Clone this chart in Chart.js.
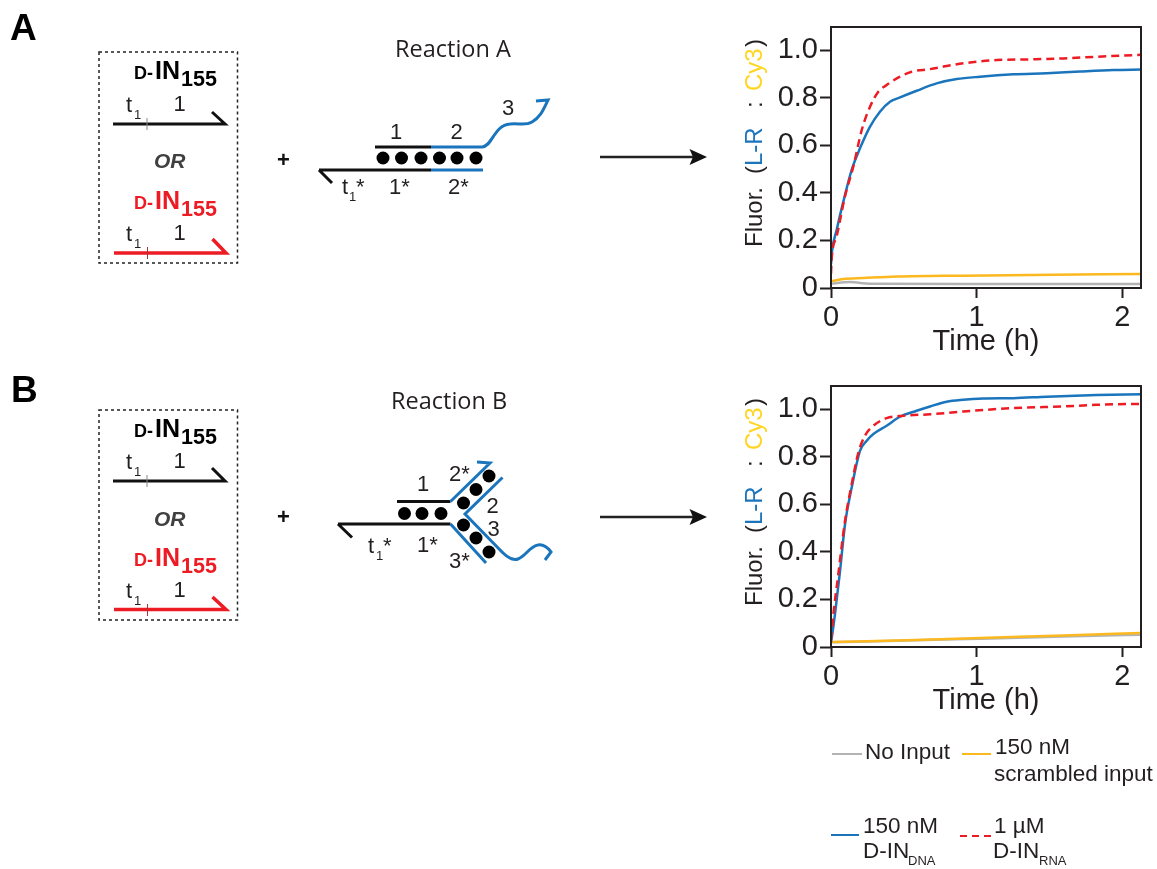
<!DOCTYPE html>
<html><head><meta charset="utf-8">
<script src="https://cdn.jsdelivr.net/npm/chart.js@4/dist/chart.umd.js"></script>
<style>
html,body{margin:0;padding:0;background:#fff;width:1157px;height:869px;overflow:hidden}
canvas{position:absolute;left:730px;display:block}
#a{top:15px}#b{top:374px}
svg{position:absolute;left:0;top:0}
.a{font-family:"Liberation Sans",Arial,sans-serif;fill:#231f20}
.n{font-size:22px}.s{font-size:13px}
.h{font-family:"Open Sans",sans-serif;font-size:23.500px;fill:#231f20}
.b{font-family:"Liberation Sans",Arial,sans-serif;font-weight:700}
.l{font-family:"Liberation Sans",Arial,sans-serif;font-size:22.500px;fill:#231f20}
</style></head><body>
<canvas id="a" width="427" height="350"></canvas>
<canvas id="b" width="427" height="350"></canvas>
<svg width="1157" height="869" viewBox="0 0 1157 869" xmlns="http://www.w3.org/2000/svg">
<defs>
<g id="inLabel"><text class="b" x="134" y="0" font-size="18">D-</text><text class="b" x="155" y="0" font-size="25">IN</text><text class="b" x="181" y="7" font-size="21.500">155</text></g>
<g id="strandLab"><text class="a n" x="126" y="0">t</text><text class="a" x="134" y="7" font-size="13">1</text><text class="a n" x="179.500" y="-1" text-anchor="middle">1</text></g>
</defs>
<!-- Panel A -->
<text class="b" x="10" y="40" font-size="37" fill="#000">A</text>
<rect x="99" y="52" width="138.500" height="211" fill="none" stroke="#222" stroke-width="1.500" stroke-dasharray="3 3"/>
<use href="#inLabel" y="79" fill="#000"/>
<use href="#strandLab" y="112"/>
<path d="M113 124H225L212 112" fill="none" stroke="#111" stroke-width="3"/>
<path d="M147 118V130" stroke="#888" stroke-width="1"/>
<text class="b" x="154" y="168" font-size="21" font-style="italic" fill="#404040">OR</text>
<use href="#inLabel" y="209" fill="#ed1c24"/>
<use href="#strandLab" y="241"/>
<path d="M114 253H226L212.500 239" fill="none" stroke="#ed1c24" stroke-width="3.500"/>
<path d="M147.500 247V259" stroke="#a33" stroke-width="1"/>
<text class="b" x="277" y="167" font-size="22" fill="#111">+</text>
<text class="h" x="395" y="57">Reaction A</text>
<path d="M375 147H431M319 170H431M319 170L332 183" fill="none" stroke="#111" stroke-width="3"/>
<path d="M431 147H482C492 147 494 125 510 124C520 123 525 126 532 122C541 117 544 108 548 100L536 101M431 170H483" fill="none" stroke="#1b75bc" stroke-width="3"/>
<g fill="#000"><circle cx="383" cy="158" r="6.500"/><circle cx="401.500" cy="158" r="6.500"/><circle cx="421" cy="158" r="6.500"/><circle cx="439.500" cy="158" r="6.500"/><circle cx="457" cy="158" r="6.500"/><circle cx="476" cy="158" r="6.500"/></g>
<text class="a n" x="396" y="139" text-anchor="middle">1</text><text class="a n" x="456.500" y="139" text-anchor="middle">2</text><text class="a n" x="508" y="115" text-anchor="middle">3</text>
<text class="a n" x="342" y="194">t</text><text class="a" x="349" y="201" font-size="13">1</text><text class="a n" x="356" y="194">*</text>
<text class="a n" x="389" y="194">1*</text><text class="a n" x="448" y="194">2*</text>
<path d="M600 157H698" stroke="#222" stroke-width="2.500"/><path d="M707 157L689.500 149L693 157L689.500 165Z" fill="#111"/>
<!-- Panel B -->
<text class="b" x="11" y="402" font-size="37" fill="#000">B</text>
<rect x="99" y="410" width="138.500" height="210" fill="none" stroke="#222" stroke-width="1.500" stroke-dasharray="3 3"/>
<use href="#inLabel" y="437" fill="#000"/>
<use href="#strandLab" y="469"/>
<path d="M113 481H225L212 468" fill="none" stroke="#111" stroke-width="3"/>
<path d="M147 475V487" stroke="#888" stroke-width="1"/>
<text class="b" x="154" y="526" font-size="21" font-style="italic" fill="#404040">OR</text>
<use href="#inLabel" y="566" fill="#ed1c24"/>
<use href="#strandLab" y="598"/>
<path d="M114 609.500H226L212.500 597" fill="none" stroke="#ed1c24" stroke-width="3.500"/>
<path d="M147.500 604V616" stroke="#a33" stroke-width="1"/>
<text class="b" x="277" y="524" font-size="22" fill="#111">+</text>
<text class="h" x="391" y="409">Reaction B</text>
<path d="M397 501.500H450.500M338 524H450.500M338 524L352 537.500" fill="none" stroke="#111" stroke-width="3"/>
<path d="M450.500 501.500L490 463L477 462M502.500 477.500L465 514L502 552C508 558 513 561 518 559C526 556 530 546 538 545C544 544 548 548 551 552L545 560M450.500 524L486 563" fill="none" stroke="#1b75bc" stroke-width="3"/>
<g fill="#000"><circle cx="404.500" cy="513.500" r="6.500"/><circle cx="422" cy="513.500" r="6.500"/><circle cx="441" cy="513.500" r="6.500"/><circle cx="489" cy="476" r="6.500"/><circle cx="476" cy="489.500" r="6.500"/><circle cx="463.500" cy="503" r="6.500"/><circle cx="463.500" cy="525" r="6.500"/><circle cx="476" cy="538" r="6.500"/><circle cx="489" cy="552" r="6.500"/></g>
<text class="a n" x="423" y="491" text-anchor="middle">1</text><text class="a n" x="449" y="481">2*</text><text class="a n" x="492.500" y="513" text-anchor="middle">2</text><text class="a n" x="493.500" y="536" text-anchor="middle">3</text>
<text class="a n" x="368" y="553">t</text><text class="a" x="376" y="560" font-size="13">1</text><text class="a n" x="383" y="553">*</text>
<text class="a n" x="417" y="552">1*</text><text class="a n" x="449" y="568">3*</text>
<path d="M600 517H698" stroke="#222" stroke-width="2.500"/><path d="M707 517L689.500 509L693 517L689.500 525Z" fill="#111"/>
<!-- Legend -->
<path d="M832 754H862" stroke="#b3b3b3" stroke-width="2"/><text class="l" x="865" y="759">No Input</text>
<path d="M962 754H991" stroke="#fbb91f" stroke-width="2"/><text class="l" x="995" y="754">150 nM</text><text class="l" x="994" y="781">scrambled input</text>
<path d="M831 835H859" stroke="#1b75bc" stroke-width="2"/><text class="l" x="863" y="833">150 nM</text><text class="l" x="863" y="858">D-IN</text><text class="l" style="font-size:13px" x="908" y="865">DNA</text>
<path d="M960 836H991" stroke="#ed1c24" stroke-width="2" stroke-dasharray="7 5"/><text class="l" x="994" y="833">1 µM</text><text class="l" x="993" y="858">D-IN</text><text class="l" style="font-size:13px" x="1039" y="865">RNA</text>
</svg>
<script>
// Panel A series
const aBlueT = [0,0.007,0.039,0.085,0.142,0.199,0.268,0.336,0.405,0.474,0.588,0.725,0.863,1.023,1.252,1.481,1.709,1.938,2.128];
const aBlueV = [0.10,0.154,0.245,0.364,0.497,0.587,0.678,0.741,0.783,0.801,0.829,0.860,0.878,0.888,0.898,0.903,0.910,0.916,0.918];
const aRedT = [0,0.005,0.039,0.096,0.153,0.211,0.268,0.325,0.382,0.474,0.554,0.680,0.794,0.954,1.137,1.366,1.595,1.824,2.128];
const aRedV = [0.06,0.126,0.217,0.385,0.510,0.664,0.762,0.825,0.853,0.888,0.909,0.920,0.933,0.948,0.958,0.961,0.965,0.972,0.980];
const aYellowT = [0,0.085,0.222,0.451,0.908,1.366,2.128];
const aYellowV = [0.028,0.038,0.042,0.048,0.052,0.055,0.059];
const aGreyT = [0,0.130,0.268,0.908,2.128];
const aGreyV = [0.018,0.025,0.018,0.017,0.017];
// Panel B series
const bBlueT = [0,0.005,0.027,0.062,0.096,0.142,0.199,0.245,0.291,0.382,0.474,0.588,0.680,0.794,0.908,1.046,1.252,1.481,1.824,2.128];
const bBlueV = [0.02,0.038,0.136,0.319,0.515,0.670,0.824,0.867,0.895,0.930,0.968,0.993,1.011,1.031,1.039,1.044,1.046,1.052,1.059,1.062];
const bRedT = [0,0.016,0.050,0.096,0.142,0.188,0.233,0.291,0.382,0.497,0.680,0.908,1.252,1.595,1.824,2.128];
const bRedV = [0.03,0.136,0.305,0.529,0.684,0.817,0.888,0.930,0.962,0.972,0.978,0.990,1.004,1.011,1.018,1.022];
const bYellowT = [0,0.519,1.023,1.595,2.128];
const bYellowV = [0.021,0.028,0.038,0.048,0.059];
const bGreyT = [0,0.519,1.023,1.595,2.128];
const bGreyV = [0.020,0.027,0.035,0.044,0.052];
// Axis
const xTickValues = [0,1,2];
const yTickValues = [0,0.2,0.4,0.6,0.8,1.0];
const xMax = 2.128, yMax = 1.097;
const INK = '#231f20';
const yTitleParts = [
  ['Fluor.', INK, 41], ['(', INK, 114], ['L-R', '#1b75bc', 122], [':', INK, 180], ['Cy3', '#ffd51f', 197], [')', INK, 241]
];
const pts = (t,v)=>t.map((x,i)=>({x,y:v[i]}));
const framePlugin = {
  id:'frame',
  afterDraw(c){
    const {ctx,chartArea:a}=c;
    ctx.save();
    ctx.strokeStyle=INK;ctx.lineWidth=2;
    ctx.strokeRect(a.left,a.top,a.right-a.left,a.bottom-a.top);
    ctx.translate(32,a.bottom);
    ctx.rotate(-Math.PI/2);
    ctx.font='24px "Liberation Sans"';
    ctx.textBaseline='alphabetic';ctx.textAlign='left';
    yTitleParts.forEach(([s,col,off])=>{ctx.fillStyle=col;ctx.fillText(s,off,0);});
    ctx.restore();
  }
};
function build(id,series){
  const [gT,gV,yT,yV,bT,bV,rT,rV]=series;
  const line=(label,t,v,color,order,dash)=>({label,data:pts(t,v),borderColor:color,borderWidth:2.5,borderDash:dash||[],pointRadius:0,fill:false,cubicInterpolationMode:'monotone',order});
  new Chart(document.getElementById(id),{
    type:'line',
    data:{datasets:[
      line('No Input',gT,gV,'#b3b3b3',4),
      line('150 nM scrambled input',yT,yV,'#fbb91f',3),
      line('150 nM D-IN DNA',bT,bV,'#1b75bc',2),
      line('1 µM D-IN RNA',rT,rV,'#ed1c24',1,[8,5])
    ]},
    options:{
      responsive:false,animation:false,devicePixelRatio:1,
      layout:{padding:{top:12,right:16,left:0,bottom:0}},
      plugins:{legend:{display:false},tooltip:{enabled:false}},
      scales:{
        x:{type:'linear',min:0,max:xMax,
          afterBuildTicks:s=>{s.ticks=xTickValues.map(value=>({value}));},
          afterFit:s=>{s.height=77;s.paddingLeft=0;s.paddingRight=0;},
          border:{display:false},
          grid:{drawOnChartArea:false,drawTicks:true,tickLength:10,tickColor:INK,tickWidth:2},
          ticks:{color:INK,font:{family:'"Liberation Sans"',size:29},padding:3,maxRotation:0,autoSkip:false,callback:v=>String(v)},
          title:{display:true,text:'Time (h)',color:INK,font:{family:'"Liberation Sans"',size:29},padding:{top:0,bottom:6}}
        },
        y:{type:'linear',min:0,max:yMax,
          afterBuildTicks:s=>{s.ticks=yTickValues.map(value=>({value}));},
          afterFit:s=>{s.width=101;s.paddingTop=0;s.paddingBottom=0;},
          border:{display:false},
          grid:{drawOnChartArea:false,drawTicks:true,tickLength:11,tickColor:INK,tickWidth:2},
          ticks:{color:INK,font:{family:'"Liberation Sans"',size:29},padding:2,autoSkip:false,callback:v=>v===0?'0':v.toFixed(1)}
        }
      }
    },
    plugins:[framePlugin]
  });
}
build('a',[aGreyT,aGreyV,aYellowT,aYellowV,aBlueT,aBlueV,aRedT,aRedV]);
build('b',[bGreyT,bGreyV,bYellowT,bYellowV,bBlueT,bBlueV,bRedT,bRedV]);
</script>
</body></html>
